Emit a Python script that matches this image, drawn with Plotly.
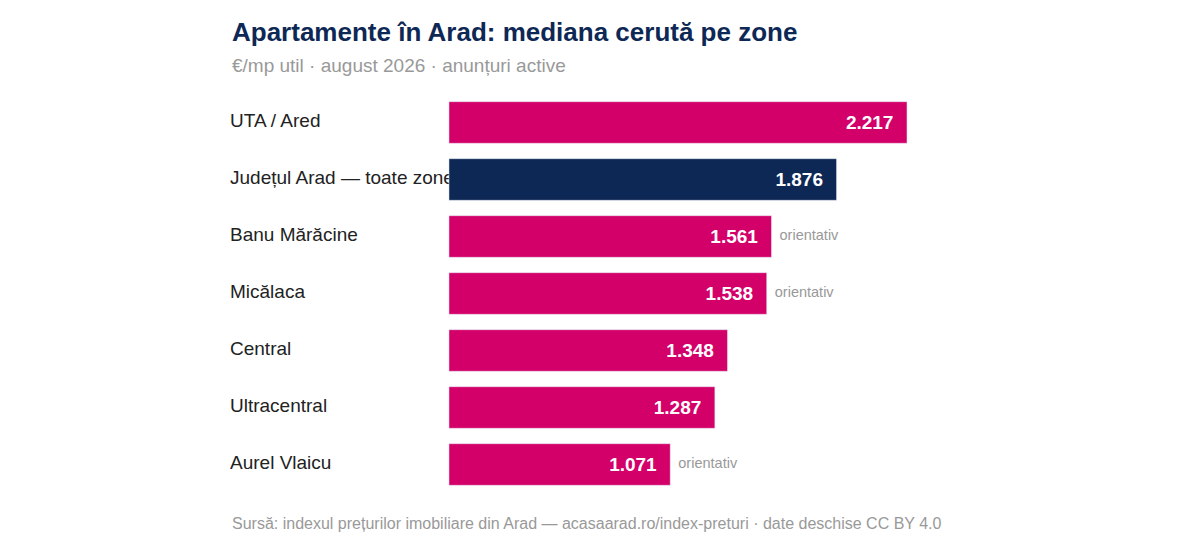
import plotly.graph_objects as go

zones = ["UTA / Ared", "Județul Arad — toate zonele", "Banu Mărăcine", "Micălaca",
         "Central", "Ultracentral", "Aurel Vlaicu"]
values = [2217, 1876, 1561, 1538, 1348, 1287, 1071]
orientativ = [False, False, True, True, False, False, True]
highlight = "Județul Arad — toate zonele"

PINK = "#d4006a"
NAVY = "#0e2856"
GREY = "#999999"

fmt = lambda v: f"{v:,}".replace(",", ".")
colors = [NAVY if z == highlight else PINK for z in zones]

fig = go.Figure()
# category labels, on the lower axis so the bars can cover them
fig.add_trace(go.Scatter(
    x=[-1060] * len(zones), y=zones, mode="text", text=zones,
    textposition="middle right", textfont=dict(size=19, color="#222222"),
    hoverinfo="skip", showlegend=False))
fig.add_trace(go.Bar(
    x=values, y=zones, orientation="h", marker_color=colors, width=0.73,
    text=[f"<b>{fmt(v)}</b>  " for v in values], textposition="inside",
    insidetextanchor="end",
    textfont=dict(size=19, color="white", family="Liberation Sans"),
    xaxis="x2", showlegend=False, hoverinfo="skip"))
fig.add_trace(go.Scatter(
    x=[v for v, o in zip(values, orientativ) if o],
    y=[z for z, o in zip(zones, orientativ) if o],
    mode="text", text=["  orientativ"] * sum(orientativ),
    textposition="middle right", textfont=dict(size=14.5, color=GREY),
    xaxis="x2", showlegend=False, hoverinfo="skip"))

rng = [-1060, 2522]
fig.update_layout(
    width=1200, height=543, plot_bgcolor="white", paper_bgcolor="white",
    font=dict(family="Liberation Sans"),
    margin=dict(l=222, r=238, t=86, b=58),
    xaxis=dict(range=rng, visible=False, fixedrange=True),
    xaxis2=dict(range=rng, visible=False, overlaying="x"),
    yaxis=dict(categoryorder="array", categoryarray=zones[::-1], visible=False),
    bargap=0.27,
)
fig.add_annotation(text="<b>Apartamente în Arad: mediana cerută pe zone</b>",
                   xref="paper", yref="paper", x=0, y=1, yshift=62,
                   xanchor="left", yanchor="middle", showarrow=False,
                   font=dict(size=26, color=NAVY))
fig.add_annotation(text="€/mp util · august 2026 · anunțuri active",
                   xref="paper", yref="paper", x=0, y=1, yshift=29,
                   xanchor="left", yanchor="middle", showarrow=False,
                   font=dict(size=19, color=GREY))
fig.add_annotation(text="Sursă: indexul prețurilor imobiliare din Arad — acasaarad.ro/index-preturi · date deschise CC BY 4.0",
                   xref="paper", yref="paper", x=0, y=0, yshift=-30,
                   xanchor="left", yanchor="middle", showarrow=False,
                   font=dict(size=16, color=GREY))
fig.write_html("out.html")
